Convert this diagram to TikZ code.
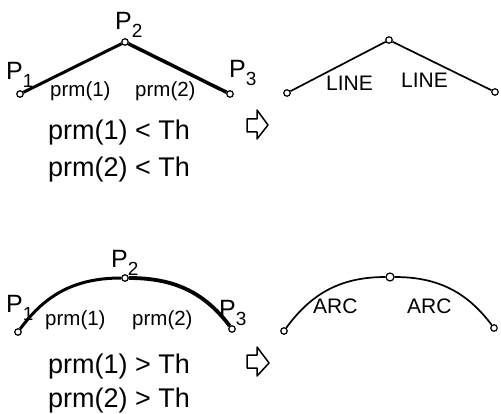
\documentclass[tikz,border=0pt]{standalone}
\usepackage{fontspec}
\setmainfont{Liberation Sans}
\begin{document}
\begin{tikzpicture}[x=1pt,y=1pt,
  vtx/.style={circle,draw,fill=white,line width=1.2pt,minimum size=6.5pt,inner sep=0pt},
  bigvtx/.style={vtx,minimum size=8pt},
  thickseg/.style={line width=3pt},
  thinseg/.style={line width=1.7pt},
  lbl/.style={anchor=base west,inner sep=0pt,font=\fontsize{20.5}{21}\selectfont},
  tag/.style={anchor=base west,inner sep=0pt,font=\fontsize{21}{22}\selectfont},
  cond/.style={anchor=base west,inner sep=0pt,font=\fontsize{27}{28}\selectfont},
  plbl/.style={anchor=base west,inner sep=0pt,font=\fontsize{25}{26}\selectfont},
  harrow/.style={line width=1.5pt,line join=round}]
\useasboundingbox (0,0) rectangle (501,413);
\newcommand{\Psub}[1]{P\raisebox{-8pt}{\fontsize{19}{20}\selectfont #1}}

% ---------- top left: polyline ----------
\node[vtx] (A1) at (20,319) {};
\node[vtx] (A2) at (125,371) {};
\node[vtx] (A3) at (230,319) {};
\draw[thickseg] (A1) -- (A2);
\draw[thickseg,line width=3.5pt] (A2) -- (A3);
\node[plbl] (LA1) at (6,333) {\Psub{1}};
\node[plbl] (LA2) at (115,383) {\Psub{2}};
\node[plbl] (LA3) at (229,335) {\Psub{3}};
\node[lbl] (pa1) at (50,316) {prm(1)};
\node[lbl] (pa2) at (135,316) {prm(2)};
\node[cond] (ca1) at (48,273) {prm(1) < Th};
\node[cond] (ca2) at (48,236) {prm(2) < Th};

% hollow arrow top
\draw[harrow] (247,294) -- (257,294) -- (257,303) -- (268,288) -- (257,274) -- (257,281) -- (247,281) -- cycle;

% ---------- top right: lines ----------
\node[vtx] (B1) at (287,320) {};
\node[vtx] (B2) at (389,373) {};
\node[vtx] (B3) at (495,321) {};
\draw[thinseg] (B1) -- (B2);
\draw[thinseg] (B2) -- (B3);
\node[tag] (lineA) at (326,322) {LINE};
\node[tag] (lineB) at (401,325) {LINE};

% ---------- bottom left: arc ----------
\node[vtx] (C1) at (18,81) {};
\node[vtx] (C2) at (125,135) {};
\node[vtx] (C3) at (232,84) {};
\draw[thickseg] (C1) to[out=54,in=180] (C2);
\draw[thickseg,line width=3.8pt] (C2) to[out=0,in=127] (C3);
\node[plbl] (LC1) at (6,101) {\Psub{1}};
\node[plbl] (LC2) at (111,146) {\Psub{2}};
\node[plbl] (LC3) at (219,96) {\Psub{3}};
\node[lbl] (pc1) at (45,88) {prm(1)};
\node[lbl] (pc2) at (132,88) {prm(2)};
\node[cond] (cc1) at (48,40) {prm(1) > Th};
\node[cond] (cc2) at (48,6) {prm(2) > Th};

% hollow arrow bottom
\draw[harrow] (247,58) -- (257,58) -- (257,66) -- (269,50) -- (257,37) -- (257,45) -- (247,45) -- cycle;

% ---------- bottom right: arcs ----------
\node[vtx] (D1) at (284,82) {};
\node[bigvtx] (D2) at (390,136) {};
\node[vtx] (D3) at (494,85) {};
\draw[thinseg] (D1) to[out=54,in=180] (D2);
\draw[thinseg] (D2) to[out=0,in=127] (D3);
\node[tag] (arcA) at (313,100) {ARC};
\node[tag] (arcB) at (407,100) {ARC};
\end{tikzpicture}
\end{document}
